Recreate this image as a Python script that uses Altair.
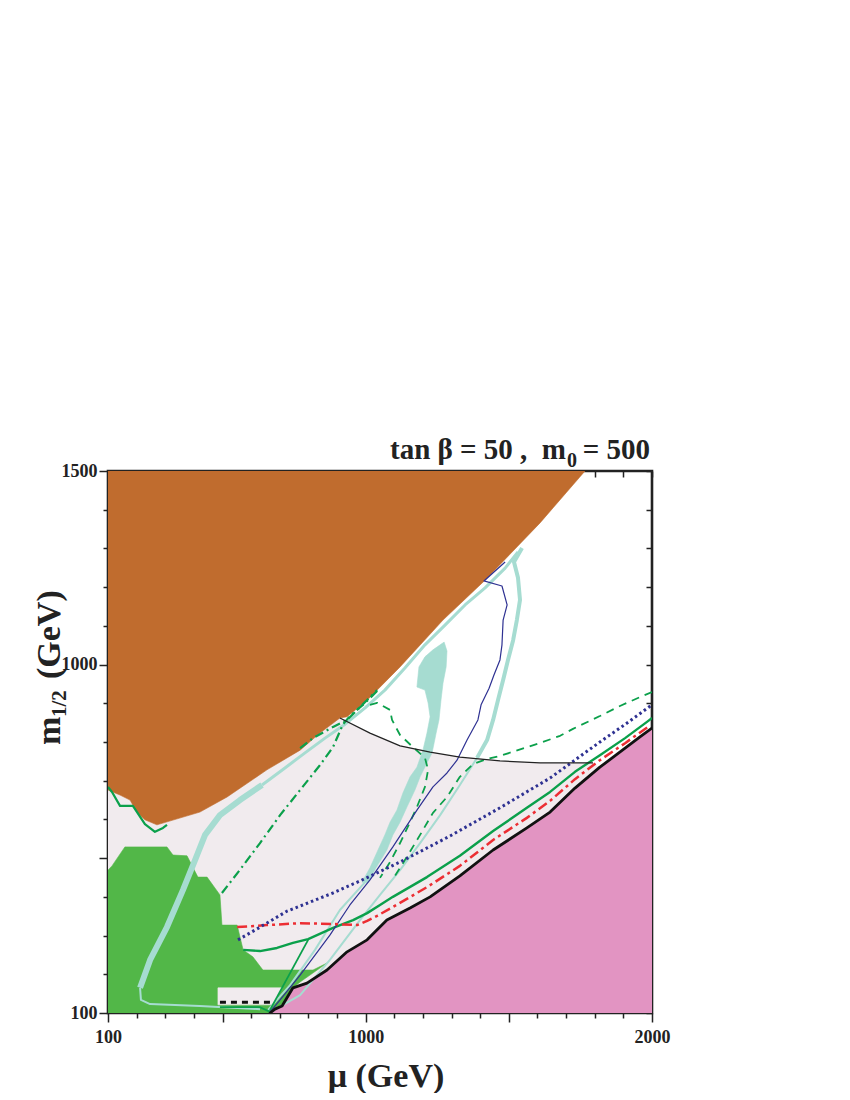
import altair as alt
import pandas as pd

# ---------------- data (mu in GeV, m_1/2 in GeV) ----------------
light_x = [100, 910, 910, 1015, 1120, 1225, 1329, 1469, 1609, 1794, 1836, 1836, 100]
light_y = [753, 896, 862, 823, 790, 774, 761, 751, 746, 746, 723, 100, 100]

green_area_x = [100, 114, 159, 306, 327, 376, 414, 446, 491, 498, 551, 572, 606, 641, 816, 865, 771, 746, 708, 666, 100]
green_area_y = [469, 480, 529, 529, 508, 506, 451, 451, 405, 327, 327, 263, 245, 211, 211, 229, 180, 165, 118, 100, 100]

strip_x = [484, 708, 676, 484]
strip_y = [165, 165, 121, 121]

brown_x = [100, 1766, 1609, 1417, 1270, 1120, 1005, 935, 910, 840, 771, 655, 516, 421, 362, 271, 229, 201, 177, 142, 100]
brown_y = [1500, 1500, 1366, 1218, 1115, 994, 908, 865, 862, 823, 779, 728, 658, 619, 606, 586, 599, 619, 650, 663, 676]

pink_x = [666, 683, 708, 746, 795, 865, 935, 1005, 1074, 1155, 1225, 1329, 1445, 1563, 1644, 1731, 1818, 1906, 1958, 2000, 2000]
pink_y = [100, 110, 118, 165, 177, 211, 258, 289, 340, 371, 400, 454, 521, 578, 619, 681, 735, 784, 813, 836, 100]

# cyan (light sea-green) features
cyan_edge_x = [638, 718, 788, 858, 928, 998, 1067, 1137, 1207, 1277, 1347, 1417, 1487, 1532]
cyan_edge_y = [689, 733, 772, 810, 846, 888, 934, 991, 1051, 1102, 1154, 1198, 1249, 1291]
cyan_a_x = [638, 561, 491, 439, 404, 362, 306, 247, 212]
cyan_a_y = [689, 650, 611, 560, 495, 418, 322, 237, 165]
cyan_a2_x = [212, 215, 247, 421, 631]
cyan_a2_y = [165, 134, 123, 118, 110]
blob_x = [1274, 1235, 1207, 1186, 1179, 1207, 1218, 1225, 1214, 1200, 1179, 1155, 1130, 1109, 1085, 1067, 1043, 1015, 987,
          1008, 1036, 1074, 1095, 1120, 1144, 1172, 1190, 1214, 1232, 1246, 1256, 1263, 1270, 1281, 1284]
blob_y = [1058, 1038, 1020, 994, 942, 934, 901, 865, 823, 779, 735, 710, 668, 624, 593, 560, 521, 475, 438,
          436, 475, 521, 560, 593, 632, 676, 710, 746, 772, 823, 857, 908, 952, 994, 1035]
cyan_b_x = [998, 910, 823, 736, 659]
cyan_b_y = [438, 366, 263, 172, 108]
cyan_c_x = [1546, 1518, 1532, 1539, 1528, 1515, 1497, 1480, 1462, 1445, 1424, 1389]
cyan_c_y = [1301, 1265, 1224, 1167, 1115, 1063, 1012, 960, 908, 857, 805, 759]
cyan_c2_x = [1389, 1329, 1260, 1190, 1120, 1050, 980, 875, 771, 673]
cyan_c2_y = [759, 689, 611, 539, 469, 405, 340, 237, 146, 105]

# green solid contours
g1_x = [100, 114, 142, 187, 229, 264, 292, 306]
g1_y = [684, 671, 635, 635, 588, 568, 578, 586]
g4_x = [572, 631, 690, 746, 799, 886, 956, 1005, 1050, 1095, 1214, 1329, 1445, 1563, 1644, 1731, 1818, 1906, 1986, 2000]
g4_y = [263, 260, 268, 281, 291, 320, 340, 358, 379, 400, 451, 506, 570, 630, 671, 723, 766, 810, 854, 862]
g5_x = [799, 666]
g5_y = [289, 108]
g6_x = [491, 631, 666]
g6_y = [115, 115, 103]

# green dash-dot
dd_x = [498, 561, 631, 701, 771, 840, 886, 921, 945, 998, 1043]
dd_y = [410, 470, 539, 611, 676, 740, 787, 846, 867, 901, 934]
dd2_x = [771, 816, 886, 935, 980, 1040]
dd2_y = [784, 810, 839, 857, 890, 934]

# green dashed
d1_x = [1015, 1040, 1085, 1092, 1120, 1165, 1207, 1218, 1207, 1179, 1155, 1120, 1085, 1050]
d1_y = [896, 901, 883, 857, 818, 787, 759, 728, 684, 632, 593, 539, 490, 449]
d3_x = [2000, 1958, 1888, 1818, 1724, 1679, 1619, 1469, 1424, 1375, 1329, 1284, 1235, 1190, 1137, 1102]
d3_y = [929, 916, 893, 867, 834, 816, 800, 764, 756, 743, 710, 658, 617, 560, 495, 454]

# blue solid (thin)
blue_x = [1487, 1413, 1476, 1494, 1480, 1476, 1469, 1448, 1431, 1403, 1392, 1354, 1319, 1284, 1235, 1179, 1095, 1015, 945, 875, 771, 701, 666]
blue_y = [1265, 1216, 1203, 1154, 1115, 1051, 1012, 973, 939, 896, 857, 805, 753, 720, 684, 624, 529, 444, 379, 301, 198, 134, 103]

# red dash-dot
red_x = [551, 655, 771, 886, 970, 1005, 1040, 1095, 1214, 1329, 1445, 1563, 1644, 1731, 1818, 1906, 1986]
red_y = [322, 327, 332, 330, 327, 338, 351, 374, 425, 480, 547, 604, 648, 704, 753, 797, 839]

# blue dotted
bdot_x = [554, 620, 725, 886, 980, 1120, 1294, 1469, 1644, 1818, 1913, 2000]
bdot_y = [289, 317, 363, 410, 441, 490, 557, 630, 707, 800, 849, 896]

# black thin arc
arc_x = [910, 1015, 1120, 1225, 1329, 1469, 1609, 1794]
arc_y = [862, 823, 790, 774, 761, 751, 746, 746]

# black dashed
bdash_x = [491, 666]
bdash_y = [128, 128]

# black thick boundary
bound_x = pink_x[:-1]
bound_y = pink_y[:-1]

x_ticks = list(range(100, 2001, 100))
y_ticks = list(range(100, 1501, 100))

# ---------------- styles ----------------
XS = alt.Scale(domain=[100, 2000], nice=False, zero=False)
YS = alt.Scale(domain=[100, 1500], nice=False, zero=False)
FONT = "Liberation Serif"


def frame(xs, ys):
    return pd.DataFrame({"x": xs, "y": ys, "i": list(range(len(xs)))})


def enc(ch, xaxis=None, yaxis=None):
    return ch.encode(
        x=alt.X("x:Q", scale=XS, axis=xaxis),
        y=alt.Y("y:Q", scale=YS, axis=yaxis),
        order="i:Q",
    )


def poly(xs, ys, color):
    return enc(alt.Chart(frame(xs, ys)).mark_line(
        interpolate="linear-closed", fill=color, stroke=color, strokeWidth=0.6, clip=True))


def line(xs, ys, color, width, dash=None, cap="butt"):
    kw = dict(color=color, strokeWidth=width, clip=True, strokeJoin="round", strokeCap=cap)
    if dash:
        kw["strokeDash"] = dash
    return enc(alt.Chart(frame(xs, ys)).mark_line(**kw))


BROWN = "#C06C2E"
LIGHT = "#F1EBEE"
PINK = "#E294C2"
GAREA = "#52B748"
CYAN = "#A6DCD1"
GLINE = "#0BA04B"
BLUE = "#2E3192"
RED = "#EC2E33"

layers = [
    poly(light_x, light_y, LIGHT),
    poly(green_area_x, green_area_y, GAREA),
    poly(strip_x, strip_y, LIGHT),
    poly(brown_x, brown_y, BROWN),
    poly(pink_x, pink_y, PINK),
    line(cyan_edge_x, cyan_edge_y, CYAN, 3),
    line(cyan_a_x, cyan_a_y, CYAN, 6),
    line(cyan_a2_x, cyan_a2_y, CYAN, 2),
    poly(blob_x, blob_y, CYAN),
    line(cyan_b_x, cyan_b_y, CYAN, 2),
    line(cyan_c_x, cyan_c_y, CYAN, 4),
    line(cyan_c2_x, cyan_c2_y, CYAN, 2),
    line(g1_x, g1_y, GLINE, 2.2),
    line(g4_x, g4_y, GLINE, 2.4),
    line(g5_x, g5_y, GLINE, 1.8),
    line(g6_x, g6_y, GLINE, 1.8),
    line(dd_x, dd_y, GLINE, 2.2, [9, 4, 2, 4]),
    line(dd2_x, dd2_y, GLINE, 2.2, [9, 4, 2, 4]),
    line(d1_x, d1_y, GLINE, 1.8, [8, 6]),
    line(d3_x, d3_y, GLINE, 1.8, [8, 6]),
    line(blue_x, blue_y, BLUE, 1.2),
    line(red_x, red_y, RED, 2.5, [10, 4, 3, 4]),
    line(bdot_x, bdot_y, BLUE, 3, [2.5, 3]),
    line(arc_x, arc_y, "#222222", 1.2),
    line(bdash_x, bdash_y, "#111111", 3, [6, 5]),
    line(bound_x, bound_y, "#111111", 2.8, cap="round"),
]

major_test = "datum.value % 500 == 0 || datum.value == 100"
common_axis = dict(
    grid=False, domain=False, tickColor="#222222", tickWidth=1.5,
    labelFont=FONT, labelFontWeight="bold", labelFontSize=18, labelColor="#222222",
    labelFlush=False, labelOverlap=False, title=None, format="d",
    tickSize={"condition": {"test": major_test, "value": 9}, "value": 5},
)
x_axis = alt.Axis(values=x_ticks, labelPadding=6, orient="bottom",
                  labelExpr="(datum.value==100||datum.value==1000||datum.value==2000) ? datum.label : ''",
                  **common_axis)
y_axis = alt.Axis(values=y_ticks, labelPadding=2, orient="left",
                  labelExpr="(datum.value==100||datum.value==1000||datum.value==1500) ? datum.label : ''",
                  **common_axis)
lim = pd.DataFrame({"x": [100, 2000], "y": [100, 1500], "i": [0, 1]})
axis_layer = enc(alt.Chart(lim).mark_point(opacity=0), x_axis, y_axis)

inner = dict(grid=False, domain=False, labels=False, tickColor="#222222", tickWidth=1.5,
             tickSize=6, offset=-6, title=None)
top_axis = alt.Axis(values=x_ticks, orient="top", **inner)
right_axis = alt.Axis(values=y_ticks, orient="right", **inner)
axis_layer2 = enc(alt.Chart(lim).mark_point(opacity=0), top_axis, right_axis)

txt = dict(font=FONT, fontWeight="bold", color="#222222", baseline="alphabetic")


def label(s, x, y, size, align="left", angle=None):
    kw = dict(txt, fontSize=size, align=align)
    if angle is not None:
        kw["angle"] = angle
    return alt.Chart(pd.DataFrame({"t": [s]})).mark_text(**kw).encode(
        x=alt.value(x), y=alt.value(y), text="t:N")


texts = [
    label("tan β = 50 ,\u00a0\u00a0m", 458, -12, 29, "right"),
    label("0", 459, -4, 20, "left"),
    label("= 500", 542, -12, 29, "right"),
    label("μ (GeV)", 278, 616, 34, "center"),
    label("m", -48, 274, 34, "left", 270),
    label("1/2", -42, 246, 21, "left", 270),
    label("(GeV)", -48, 208, 34, "left", 270),
]

chart = alt.layer(*layers, axis_layer, axis_layer2, *texts).resolve_axis(
    x="independent", y="independent"
).properties(
    width=544, height=542,
    autosize=alt.AutoSizeParams(type="none"),
    padding={"left": 100, "top": 463, "right": 90, "bottom": 80},
).configure_view(stroke="#222222", strokeWidth=2.6)

chart.save("out.html", embed_options={"renderer": "svg", "actions": False})
